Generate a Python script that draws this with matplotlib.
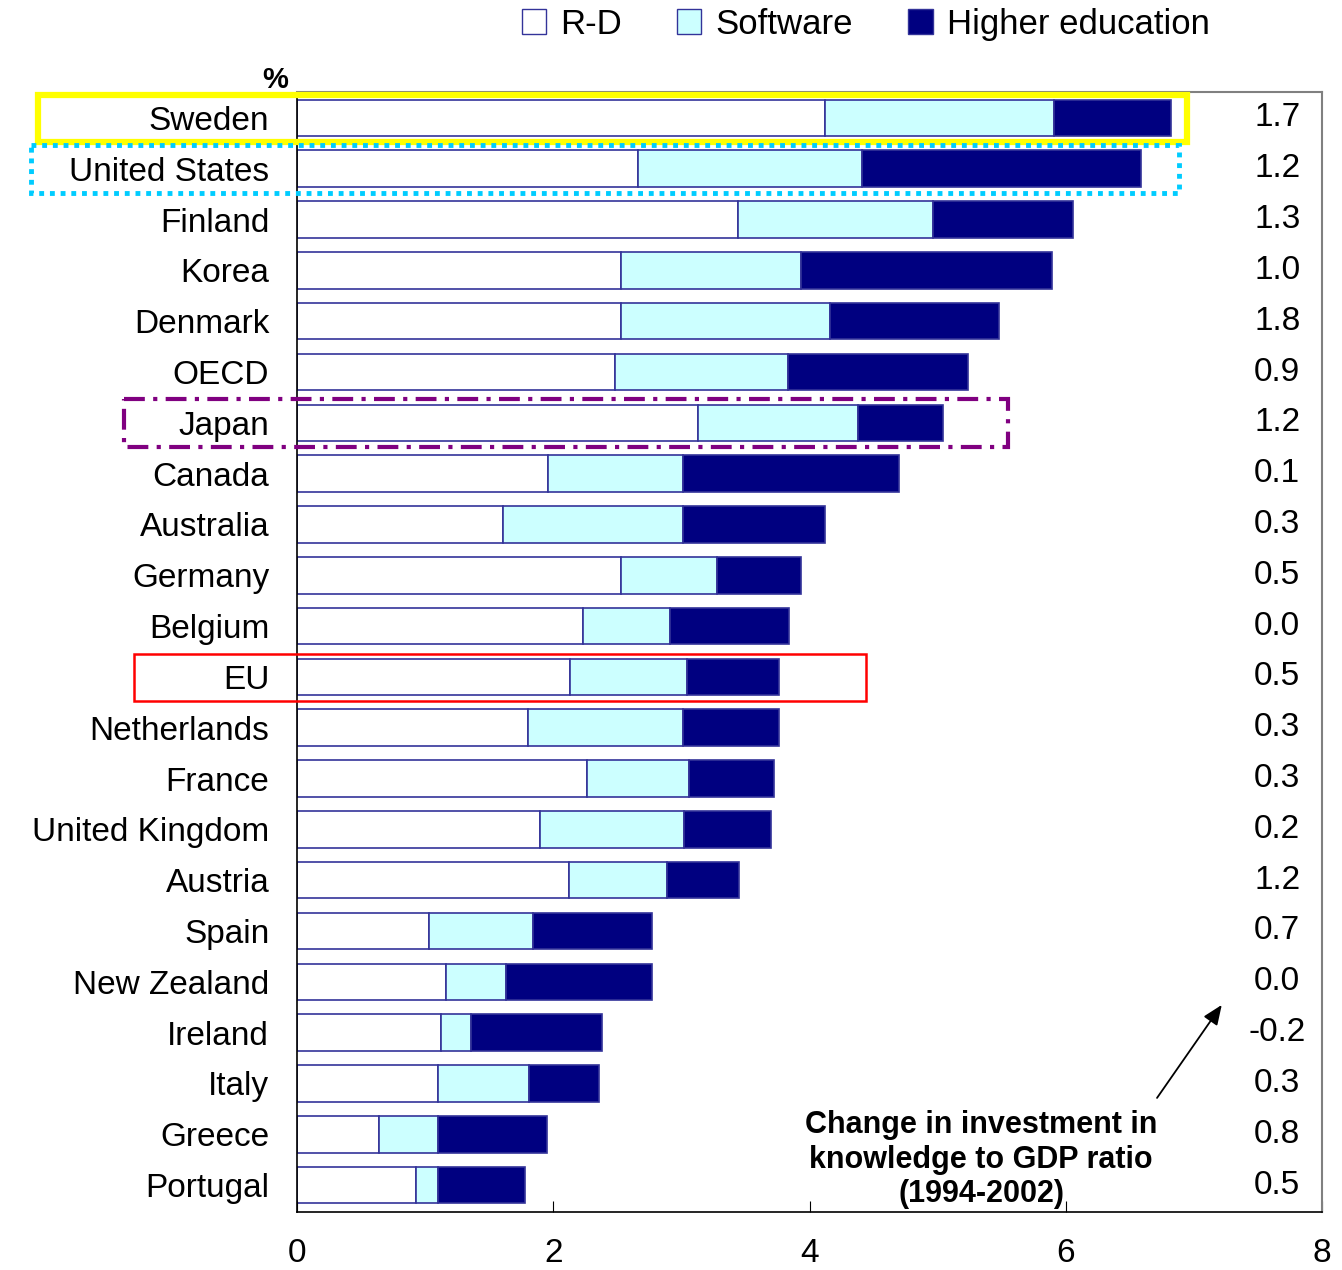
import matplotlib
matplotlib.use('Agg')
import matplotlib.pyplot as plt
from matplotlib.patches import Patch, Rectangle

countries = ['Sweden', 'United States', 'Finland', 'Korea', 'Denmark', 'OECD', 'Japan',
             'Canada', 'Australia', 'Germany', 'Belgium', 'EU', 'Netherlands', 'France',
             'United Kingdom', 'Austria', 'Spain', 'New Zealand', 'Ireland', 'Italy',
             'Greece', 'Portugal']
rd = [4.12, 2.66, 3.44, 2.53, 2.53, 2.48, 3.13, 1.96, 1.61, 2.53, 2.23, 2.13, 1.80,
      2.26, 1.90, 2.12, 1.03, 1.16, 1.12, 1.10, 0.64, 0.93]
software = [1.79, 1.75, 1.52, 1.40, 1.63, 1.35, 1.25, 1.05, 1.40, 0.75, 0.68, 0.91, 1.21,
            0.80, 1.12, 0.77, 0.81, 0.47, 0.24, 0.71, 0.46, 0.17]
higher_ed = [0.91, 2.18, 1.10, 1.96, 1.32, 1.41, 0.66, 1.69, 1.11, 0.65, 0.93, 0.72, 0.75,
             0.66, 0.68, 0.56, 0.93, 1.14, 1.02, 0.55, 0.85, 0.68]
change = ['1.7', '1.2', '1.3', '1.0', '1.8', '0.9', '1.2', '0.1', '0.3', '0.5', '0.0',
          '0.5', '0.3', '0.3', '0.2', '1.2', '0.7', '0.0', '-0.2', '0.3', '0.8', '0.5']
xticks = [0, 2, 4, 6, 8]

plt.rcParams['font.family'] = ['Liberation Sans', 'DejaVu Sans']
edge = '#333399'
c_rd, c_sw, c_he = 'white', '#CCFFFF', '#000080'

fig = plt.figure(figsize=(13.42, 12.70), dpi=100)
ax = fig.add_axes([297/1342, 1 - 1212/1270, (1322-297)/1342, (1212-92)/1270])

y = list(range(len(countries)))
left2 = [a + b for a, b in zip(rd, software)]
ax.barh(y, rd, height=0.72, color=c_rd, edgecolor=edge, linewidth=1.2)
ax.barh(y, software, left=rd, height=0.72, color=c_sw, edgecolor=edge, linewidth=1.2)
ax.barh(y, higher_ed, left=left2, height=0.72, color=c_he, edgecolor=edge, linewidth=1.2)

ax.set_xlim(0, 8)
ax.set_ylim(len(countries) - 0.47, -0.51)
ax.set_xticks(xticks)
ax.set_yticks(y)
ax.set_yticklabels(countries, fontsize=24)
ax.tick_params(axis='y', length=0, pad=20)
ax.tick_params(axis='x', direction='in', length=8, pad=19, labelsize=24)

for s in ['top', 'right']:
    ax.spines[s].set_color('#808080')
    ax.spines[s].set_linewidth(1.5)
for s in ['left', 'bottom']:
    ax.spines[s].set_linewidth(1.2)

for i, v in enumerate(change):
    ax.text(7.65, i, v, ha='center', va='center', fontsize=24)

# highlight boxes around selected rows
def box(row, x0, x1, color, ls, lw):
    r = Rectangle((x0, row - 0.46), x1 - x0, 0.94, fill=False, edgecolor=color,
                  linestyle=ls, linewidth=lw, clip_on=False, zorder=5)
    ax.add_patch(r)

box(0, -2.02, 6.95, '#FFFF00', '-', 4.5)
box(1, -2.08, 6.88, '#00CCFF', (0, (1, 1.2)), 3.5)
box(6, -1.35, 5.55, '#800080', (0, (5, 2, 1, 2)), 3)
box(11, -1.27, 4.44, '#FF0000', '-', 1.8)

ax.text(-0.17, -0.74, '%', ha='center', va='center', fontsize=21, fontweight='bold')

ax.annotate('', xy=(7.23, 17.41), xytext=(6.70, 19.33),
            arrowprops=dict(arrowstyle='-|>,head_length=1.2,head_width=0.5', color='black', lw=1.3))
ax.text(5.34, 20.5, 'Change in investment in\nknowledge to GDP ratio\n(1994-2002)',
        ha='center', va='center', fontsize=22, fontweight='bold', linespacing=1.2)

handles = [Patch(facecolor=c_rd, edgecolor=edge, label='R-D'),
           Patch(facecolor=c_sw, edgecolor=edge, label='Software'),
           Patch(facecolor=c_he, edgecolor=edge, label='Higher education')]
fig.legend(handles=handles, loc='center', bbox_to_anchor=(0.645, 0.981), ncol=3,
           frameon=False, fontsize=25, handlelength=0.7, handleheight=0.7,
           handletextpad=0.4, columnspacing=1.6)

plt.savefig('out.png', dpi=100)
